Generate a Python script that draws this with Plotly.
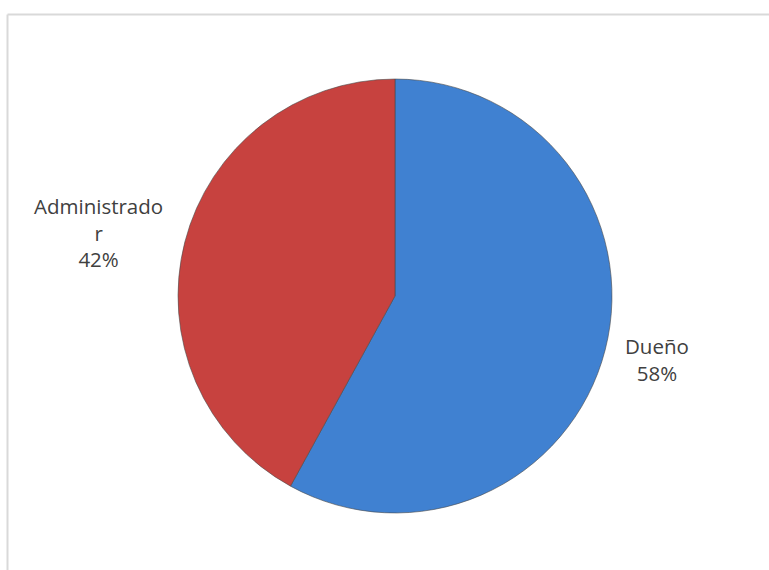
import plotly.graph_objects as go

labels = ["Dueño", "Administrador"]
values = [58, 42]
colors = ["#4081D1", "#C7423F"]
label_text = ["Dueño<br>58%", "Administrado<br>r<br>42%"]

fig = go.Figure()
fig.add_trace(go.Pie(
    labels=labels,
    values=values,
    sort=False,
    direction="clockwise",
    rotation=0,
    textinfo="none",
    hoverinfo="label+percent",
    marker=dict(colors=colors, line=dict(color="#4a4a4a", width=0.6)),
    domain=dict(x=[0.2315, 0.7958], y=[0.1, 0.8614]),
    showlegend=False,
))

# data labels
positions = [(657, 359), (98, 233)]
for txt, (px, py) in zip(label_text, positions):
    fig.add_annotation(
        x=px / 769, y=1 - py / 570, xref="paper", yref="paper",
        text=txt, showarrow=False, align="center",
        xanchor="center", yanchor="middle",
        font=dict(family="Open Sans, Carlito, Calibri, sans-serif", size=20.5, color="#404040"),
    )

# chart border
fig.add_shape(type="line", xref="paper", yref="paper",
              x0=7.5 / 769, x1=1.0, y0=1 - 14.5 / 570, y1=1 - 14.5 / 570,
              line=dict(color="#D9D9D9", width=2))
fig.add_shape(type="line", xref="paper", yref="paper",
              x0=7.5 / 769, x1=7.5 / 769, y0=1 - 14.5 / 570, y1=0,
              line=dict(color="#D9D9D9", width=2))

fig.update_layout(
    width=769, height=570,
    margin=dict(l=0, r=0, t=0, b=0),
    paper_bgcolor="white", plot_bgcolor="white",
)
fig.write_html("out.html")
